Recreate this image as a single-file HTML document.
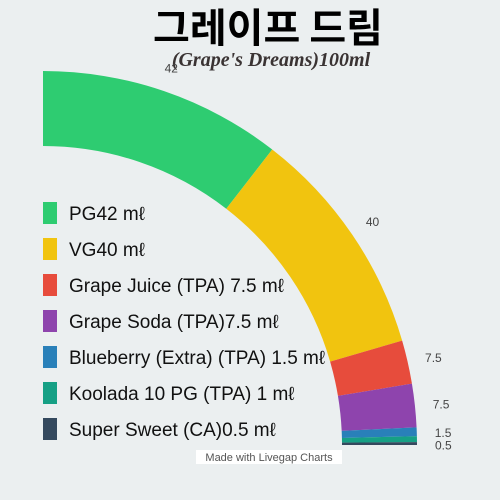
<!DOCTYPE html>
<html><head><meta charset="utf-8"><style>
body{margin:0;background:#ebeff0;}
svg{display:block;}
</style></head><body>
<svg width="500" height="500" viewBox="0 0 500 500" id="chart">
<rect width="500" height="500" fill="#ebeff0"/>
<text x="268" y="42" text-anchor="middle" font-family="'Noto Sans CJK KR', sans-serif" font-weight="bold" font-size="40" fill="#000">그레이프 드림</text>
<text x="271" y="66" text-anchor="middle" font-family="'Liberation Serif', serif" font-style="italic" font-weight="bold" font-size="20" fill="#3a3333">(Grape's Dreams)100ml</text>
<g id="slices"></g>
<g id="labels"></g>
<g id="legend"></g>
<rect x="196" y="450" width="146" height="14" fill="#fff"/>
<text x="269" y="461" text-anchor="middle" font-family="'Liberation Sans', sans-serif" font-size="11" fill="#555">Made with Livegap Charts</text>
</svg>
<script>
const categories=["PG42 mℓ","VG40 mℓ","Grape Juice (TPA) 7.5 mℓ","Grape Soda (TPA)7.5 mℓ","Blueberry (Extra) (TPA) 1.5 mℓ","Koolada 10 PG (TPA) 1 mℓ","Super Sweet (CA)0.5 mℓ"];
const values=[42,40,7.5,7.5,1.5,1,0.5];
const valueLabels=["42","40","7.5","7.5","1.5","","0.5"];
const colors=["#2ecc71","#f1c40f","#e74c3c","#8e44ad","#2980b9","#16a085","#34495e"];
const NS="http://www.w3.org/2000/svg";
const cx=43,cy=445,R=374,r=299;
const total=values.reduce((a,b)=>a+b,0);
function ang(v){return v/total*Math.PI/2;}
function pt(rad,a){return [cx+rad*Math.sin(a),cy-rad*Math.cos(a)];}
const sG=document.getElementById('slices'),lG=document.getElementById('labels'),gG=document.getElementById('legend');
let acc=0;
values.forEach((v,i)=>{
  const a0=ang(acc),a1=ang(acc+v);acc+=v;
  const p1=pt(R,a0),p2=pt(R,a1),p3=pt(r,a1),p4=pt(r,a0);
  const p=document.createElementNS(NS,'path');
  p.setAttribute('d',`M${p1}A${R},${R} 0 0 1 ${p2}L${p3}A${r},${r} 0 0 0 ${p4}Z`);
  p.setAttribute('fill',colors[i]);
  
  
  sG.appendChild(p);
  if(valueLabels[i]){
    const am=(a0+a1)/2;const q=pt(400,am);
    const t=document.createElementNS(NS,'text');
    t.setAttribute('x',q[0]-8);t.setAttribute('y',q[1]+6);
    t.setAttribute('font-family','Liberation Sans, sans-serif');t.setAttribute('font-size','12');t.setAttribute('fill','#444');
    t.textContent=valueLabels[i];
    
    
    lG.appendChild(t);
  }
  const y=202+i*36;
  const rc=document.createElementNS(NS,'rect');
  rc.setAttribute('x',43);rc.setAttribute('y',y);rc.setAttribute('width',14);rc.setAttribute('height',22);rc.setAttribute('fill',colors[i]);
  
  
  gG.appendChild(rc);
  const tx=document.createElementNS(NS,'text');
  tx.setAttribute('x',69);tx.setAttribute('y',y+18);
  tx.setAttribute('font-family','Liberation Sans, sans-serif');tx.setAttribute('font-size','19');tx.setAttribute('fill','#111');
  tx.textContent=categories[i];
  
  
  gG.appendChild(tx);
});
</script>
</body></html>
